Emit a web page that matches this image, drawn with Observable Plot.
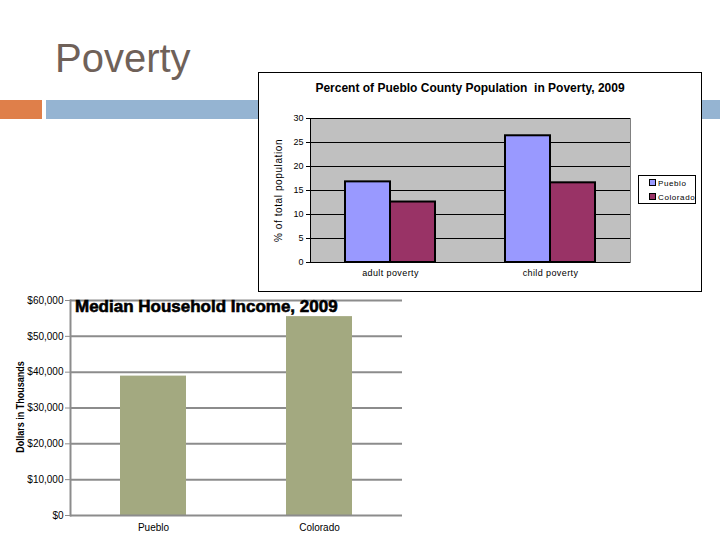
<!DOCTYPE html>
<html>
<head>
<meta charset="utf-8">
<script src="https://cdn.jsdelivr.net/npm/d3@7"></script>
<script src="https://cdn.jsdelivr.net/npm/@observablehq/plot@0.6"></script>
<style>
  body { margin: 0; background: #fff; }
  #slide { position: relative; width: 720px; height: 540px; overflow: hidden; background: #fff;
           font-family: "Liberation Sans", Arial, sans-serif; }
  .abs { position: absolute; }
  #heading { left: 55px; top: 38px; font-size: 40px; line-height: 40px; color: #6f6159; white-space: nowrap; }
  #barOrange { left: 0; top: 100px; width: 42px; height: 19px; background: #df7f4a; }
  #barBlue { left: 46px; top: 100px; width: 674px; height: 19px; background: #95b4d2; }
  #povBox { left: 258px; top: 72px; width: 444px; height: 220px; box-sizing: border-box;
            border: 1px solid #000; background: #fff; }
  #povTitle { left: 310px; top: 81px; width: 320px; text-align: center; font-size: 12px; font-weight: bold;
              white-space: nowrap; color: #000; }
  #povChart { left: 259px; top: 73px; }
  #povChart g[aria-label="y-axis label"] text { letter-spacing: 0.6px; }
  #povChart g[aria-label="fx-axis tick label"] text { letter-spacing: 0.4px; }
  #povLegend { left: 638px; top: 175px; width: 58px; height: 29px; box-sizing: border-box;
               border: 1px solid #000; background: #fff; font-size: 8px; }
  .legItem { position: absolute; left: 10px; white-space: nowrap; letter-spacing: 0.6px; line-height: 10px; }
  .legItem span.sw { display: inline-block; width: 5px; height: 5px; border: 1px solid #000;
                     margin-right: 2px; vertical-align: 0px; }
  #incTitle { left: 75px; top: 297px; font-size: 17px; font-weight: bold; white-space: nowrap; color: #000;
              -webkit-text-stroke: 0.6px #000; }
  #incChart { left: 0; top: 290px; }
  #incLabel { left: 20px; top: 407px; font-size: 10px; font-weight: bold; white-space: nowrap;
              transform: translate(-50%, -50%) rotate(-90deg) scaleX(0.9); }
</style>
</head>
<body>
<div id="slide">
  <div id="heading" class="abs">Poverty</div>
  <div id="barOrange" class="abs"></div>
  <div id="barBlue" class="abs"></div>
  <div id="povBox" class="abs"></div>
  <div id="povTitle" class="abs">Percent of Pueblo County Population&nbsp; in Poverty, 2009</div>
  <div id="povChart" class="abs"></div>
  <div id="povLegend" class="abs"></div>
  <div id="incChart" class="abs"></div>
  <div id="incTitle" class="abs">Median Household Income, 2009</div>
  <div id="incLabel" class="abs">Dollars in Thousands</div>
</div>
<script>
// Poverty rates (% of total population), 2009
const categories = ["adult poverty", "child poverty"];
const series = ["Pueblo", "Colorado"];
const seriesColors = ["#9999ff", "#993366"];
const puebloPct = [16.8, 26.4];
const coloradoPct = [12.6, 16.6];
const povertyTicks = [0, 5, 10, 15, 20, 25, 30];

// Median household income, 2009
const places = ["Pueblo", "Colorado"];
const incomeValues = [38900, 55500];
const incomeTicks = [0, 10000, 20000, 30000, 40000, 50000, 60000];

const font = "Liberation Sans, Arial, sans-serif";

const povertyRows = categories.flatMap((c, i) =>
  series.map((s, j) => ({category: c, series: s, value: (j === 0 ? puebloPct : coloradoPct)[i]}))
);

const povertyChart = Plot.plot({
  width: 442,
  height: 218,
  marginLeft: 51,
  marginRight: 71,
  marginTop: 45,
  marginBottom: 29,
  style: {fontFamily: font, fontSize: "9px", background: "transparent", color: "#000"},
  fx: {domain: categories, padding: 0},
  x: {domain: series, paddingInner: 0, paddingOuter: 0.74, axis: null},
  y: {domain: [0, 30]},
  color: {domain: series, range: seriesColors},
  marks: [
    // grey plot background, facets overlap slightly so no seam shows
    Plot.frame({fill: "#c0c0c0", stroke: "none", insetLeft: -0.5, insetRight: -0.5}),
    Plot.ruleY(povertyTicks.slice(1), {stroke: "#000"}),
    Plot.barY(povertyRows, {fx: "category", x: "series", y: "value", fill: "series", stroke: "#000", strokeWidth: 2}),
    Plot.ruleY([0], {stroke: "#000"}),
    Plot.frame({anchor: "left", facetAnchor: "left", stroke: "#000"}),
    Plot.frame({anchor: "right", facetAnchor: "right", stroke: "#808080"}),
    Plot.axisY(povertyTicks, {tickSize: 4, tickPadding: 3, fontSize: 9,
      label: "% of total population", labelAnchor: "center", labelOffset: 36, labelArrow: "none"}),
    Plot.axisFx({anchor: "bottom", tickSize: 0, tickPadding: 7, label: null, fontSize: 9})
  ]
});
povertyChart.querySelectorAll('g[aria-label="y-axis label"] text').forEach(t => t.setAttribute("font-size", 10));
document.getElementById("povChart").appendChild(povertyChart);

// legend built from the colour scale
const colorScale = povertyChart.scale("color");
const legend = document.getElementById("povLegend");
colorScale.domain.forEach((name, i) => {
  const item = document.createElement("div");
  item.className = "legItem";
  item.style.top = (3 + i * 14) + "px";
  const sw = document.createElement("span");
  sw.className = "sw";
  sw.style.background = colorScale.range[i];
  item.appendChild(sw);
  item.appendChild(document.createTextNode(name));
  legend.appendChild(item);
});

const incomeRows = places.map((p, i) => ({place: p, value: incomeValues[i]}));

const incomeChart = Plot.plot({
  width: 420,
  height: 250,
  marginLeft: 70,
  marginRight: 18,
  marginTop: 10,
  marginBottom: 25,
  style: {fontFamily: font, fontSize: "10px", background: "transparent", color: "#000"},
  x: {domain: places, paddingInner: 0.6, paddingOuter: 0.3},
  y: {domain: [0, 60000]},
  marks: [
    Plot.ruleY(incomeTicks.slice(1), {stroke: "#8c8c8c", strokeWidth: 2}),
    Plot.barY(incomeRows, {x: "place", y: "value", fill: "#a3a980"}),
    Plot.ruleY([0], {stroke: "#8c8c8c", strokeWidth: 2}),
    Plot.frame({anchor: "left", stroke: "#8c8c8c", strokeWidth: 2}),
    Plot.axisY(incomeTicks, {tickFormat: d3.format("$,"), tickSize: 5, tickPadding: 2,
      stroke: "#8c8c8c", fill: "#000", fontSize: 10, label: null}),
    Plot.axisX({tickSize: 0, tickPadding: 8, fontSize: 10, label: null})
  ]
});
document.getElementById("incChart").appendChild(incomeChart);
</script>
</body>
</html>
